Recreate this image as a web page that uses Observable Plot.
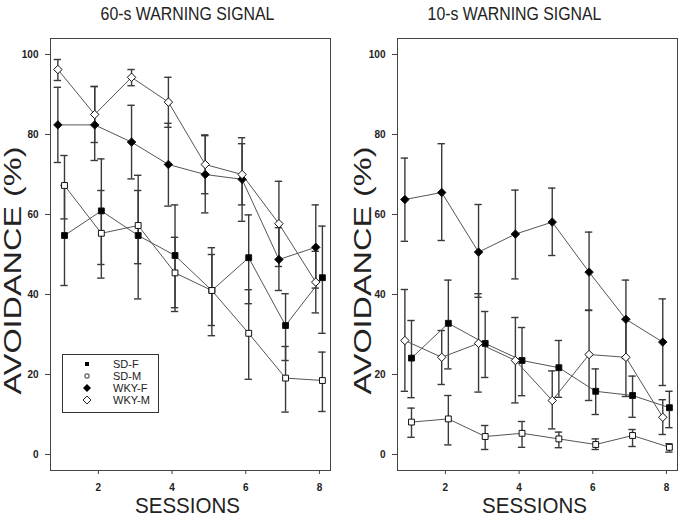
<!DOCTYPE html>
<html><head><meta charset="utf-8">
<script src="https://cdn.jsdelivr.net/npm/d3@7"></script>
<script src="https://cdn.jsdelivr.net/npm/@observablehq/plot@0.6"></script>
<style>
body{margin:0;background:#fff;}
#wrap{position:relative;width:680px;height:519px;display:flex;font-family:"Liberation Sans",Arial,sans-serif;background:#fff;}
#legend{position:absolute;left:62px;top:354px;width:95px;height:57px;border:1px solid #333;background:#fff;}
.lrow{position:absolute;left:0;height:11px;font-size:11px;line-height:11px;color:#222;}
.lrow svg{position:absolute;left:19px;top:0;}
.lrow span{position:absolute;left:50px;top:0;white-space:nowrap;}
</style></head><body><div id="wrap"><div id="legend"></div></div>
<script>
const sessions = [1, 2, 3, 4, 5, 6, 7, 8];
const groups = ["SD-F", "SD-M", "WKY-F", "WKY-M"];
const panelTitles = ["60-s WARNING SIGNAL", "10-s WARNING SIGNAL"];
const xTicks = [2, 4, 6, 8];
const yTicks = [0, 20, 40, 60, 80, 100];

// 60-s warning signal
const sdF60 = [54.75, 60.9, 54.75, 49.75, 41, 49.2, 32.25, 44.2];
const sdF60lo = [42.25, 47.5, 38.9, 36.7, 29.7, 37.7, 23.5, 30.3];
const sdF60hi = [67.25, 73.9, 69.8, 62.4, 51.7, 59.9, 40.2, 57.1];
const sdM60 = [67.25, 55.3, 57.25, 45.4, 41, 30.3, 19.1, 18.5];
const sdM60lo = [58.9, 44.1, 47.7, 35.75, 32.25, 18.8, 10.6, 10.75];
const sdM60hi = [74.75, 66, 66, 54.3, 50, 41.2, 27, 25.6];
const wkyF60 = [82.4, 82.4, 78.1, 72.5, 70, 68.8, 48.75, 51.8];
const wkyF60lo = [73, 73.5, 68.9, 62.1, 60.4, 58.3, 41, 41.6];
const wkyF60hi = [91.8, 92, 87.3, 82.8, 79.7, 77.7, 56.7, 62.4];
const wkyM60 = [96.25, 85, 94.3, 88.1, 72.5, 70, 57.7, 43.1];
const wkyM60lo = [93.5, 78, 92.2, 81.8, 65.2, 62.4, 47, 35.4];
const wkyM60hi = [98.75, 92, 96.25, 94.3, 79.9, 79.2, 68.3, 50.8];

// 10-s warning signal
const sdF10 = [24.1, 32.8, 27.75, 23.5, 21.7, 15.8, 14.75, 11.7];
const sdF10lo = [14.2, 21.4, 19.25, 14.7, 14.3, 10, 9.3, 6.7];
const sdF10hi = [33.5, 43.6, 35.75, 31.75, 28.5, 21.4, 19.6, 15.8];
const sdM10 = [8.1, 8.9, 4.5, 5.3, 3.9, 2.5, 4.75, 1.8];
const sdM10lo = [4.3, 2.4, 1.25, 1.8, 1.7, 1.25, 2, 0.6];
const sdM10hi = [11.6, 14.75, 7.25, 8.25, 5.6, 3.9, 6.25, 2.7];
const wkyF10 = [63.75, 65.5, 50.6, 55.1, 58.1, 45.6, 33.8, 28.1];
const wkyF10lo = [53.3, 53.5, 39.3, 43.9, 49.75, 36, 24, 17.25];
const wkyF10hi = [74.1, 77.7, 62.5, 66.1, 66.6, 55.6, 43.6, 38.9];
const wkyM10 = [28.5, 24.3, 27.8, 23.5, 13.5, 25, 24.3, 9.3];
const wkyM10lo = [15.8, 17.5, 15.6, 12.9, 6.4, 13.5, 14.5, 5];
const wkyM10hi = [41.25, 31, 40.2, 34.25, 20.9, 36.1, 34, 13.7];

const offset = {"SD-F": 0.08, "SD-M": 0.08, "WKY-F": -0.1, "WKY-M": -0.1};
const symbolOf = {"SD-F": "square", "SD-M": "square", "WKY-F": "diamond2", "WKY-M": "diamond2"};
const fillOf = {"SD-F": "#000", "SD-M": "#fff", "WKY-F": "#000", "WKY-M": "#fff"};

function buildRows(series) {
  const rows = [];
  groups.forEach((g, gi) => {
    const [m, lo, hi] = series[gi];
    sessions.forEach((s, i) => rows.push({group: g, session: s, x: s + offset[g], mean: m[i], lo: lo[i], hi: hi[i]}));
  });
  return rows;
}
const rows60 = buildRows([[sdF60, sdF60lo, sdF60hi], [sdM60, sdM60lo, sdM60hi], [wkyF60, wkyF60lo, wkyF60hi], [wkyM60, wkyM60lo, wkyM60hi]]);
const rows10 = buildRows([[sdF10, sdF10lo, sdF10hi], [sdM10, sdM10lo, sdM10hi], [wkyF10, wkyF10lo, wkyF10hi], [wkyM10, wkyM10lo, wkyM10hi]]);

function panel(rows, title, ml, mr, titleDx, labelDx) {
  const cap = 0.1;
  return Plot.plot({
    width: 340, height: 519,
    marginLeft: ml, marginRight: mr, marginTop: 38, marginBottom: 49,
    x: {domain: [0.7, 8.3]},
    y: {domain: [-4, 104]},
    style: {fontFamily: "Liberation Sans, Arial, sans-serif", color: "#222", background: "#fff", overflow: "visible"},
    marks: [
      Plot.axisX({ticks: xTicks, tickSize: 4, tickPadding: 9, fontSize: 10, fontWeight: "bold", label: null, stroke: "#444"}),
      Plot.axisY({ticks: yTicks, tickSize: 5, tickPadding: 7, fontSize: 10, fontWeight: "bold", label: null, stroke: "#444"}),
      Plot.frame({stroke: "#444"}),
      Plot.ruleX(rows, {x: "x", y1: "lo", y2: "hi", stroke: "#3a3a3a", strokeWidth: 1.4}),
      Plot.ruleY(rows, {y: "lo", x1: d => d.x - cap, x2: d => d.x + cap, stroke: "#3a3a3a", strokeWidth: 1.4}),
      Plot.ruleY(rows, {y: "hi", x1: d => d.x - cap, x2: d => d.x + cap, stroke: "#3a3a3a", strokeWidth: 1.4}),
      Plot.line(rows, {x: "x", y: "mean", z: "group", stroke: "#555", strokeWidth: 1}),
      Plot.dot(rows.filter(d => symbolOf[d.group] === "square"), {x: "x", y: "mean", symbol: d => symbolOf[d.group], fill: d => fillOf[d.group], stroke: "#111", strokeWidth: 1, r: 3.3}),
      Plot.dot(rows.filter(d => symbolOf[d.group] === "diamond2"), {x: "x", y: "mean", symbol: d => symbolOf[d.group], fill: d => fillOf[d.group], stroke: "#111", strokeWidth: 1, r: 3.8}),
      Plot.text([title], {frameAnchor: "top", lineAnchor: "middle", dy: -24, dx: titleDx, fontSize: 18, fill: "#222"}),
      Plot.text(["SESSIONS"], {frameAnchor: "bottom", lineAnchor: "middle", dy: 35, dx: -3, fontSize: 22, fill: "#222"}),
      Plot.text(["AVOIDANCE (%)"], {frameAnchor: "left", textAnchor: "middle", lineAnchor: "middle", dx: labelDx, dy: 16, rotate: -90, fontSize: 23, fill: "#222"})
    ]
  });
}

const wrap = document.getElementById("wrap");
const svgs = [panel(rows60, panelTitles[0], 50, 10, -3, -37), panel(rows10, panelTitles[1], 57, 3, -23, -34)];
wrap.insertBefore(svgs[0], wrap.firstChild);
wrap.insertBefore(svgs[1], document.getElementById("legend"));

// stretch the large labels to the reference's proportions
const targets = {"AVOIDANCE (%)": 248, "SESSIONS": 105, "60-s WARNING SIGNAL": 174, "10-s WARNING SIGNAL": 174};
svgs.forEach(svg => {
  d3.select(svg).selectAll("text").each(function() {
    const t = this.textContent.trim();
    const target = targets[t];
    if (!target) return;
    const natural = this.getComputedTextLength();
    if (!natural) return;
    const k = target / natural;
    const tr = this.getAttribute("transform");
    if (tr) this.setAttribute("transform", tr + ` scale(${k},1)`);
    else {
      const x = +this.getAttribute("x") || 0;
      this.setAttribute("transform", `translate(${x},0) scale(${k},1) translate(${-x},0)`);
    }
  });
});

// legend
const legend = d3.select("#legend");
const legendSym = {
  "SD-F": '<rect x="3" y="3" width="4" height="4" fill="#000"/>',
  "SD-M": '<rect x="3" y="3" width="4" height="4" fill="#fff" stroke="#111" stroke-width="0.9" rx="1"/>',
  "WKY-F": '<path d="M5,1 L9,5 L5,9 L1,5Z" fill="#000"/>',
  "WKY-M": '<path d="M5,1 L9,5 L5,9 L1,5Z" fill="#fff" stroke="#111" stroke-width="0.9"/>'
};
const rowTops = [4, 16, 28, 40];
groups.forEach((g, i) => {
  const r = legend.append("div").attr("class", "lrow").style("top", rowTops[i] + "px").style("width", "95px");
  r.html('<svg width="10" height="10">' + legendSym[g] + '</svg><span>' + g + '</span>');
});
</script>
</body></html>
